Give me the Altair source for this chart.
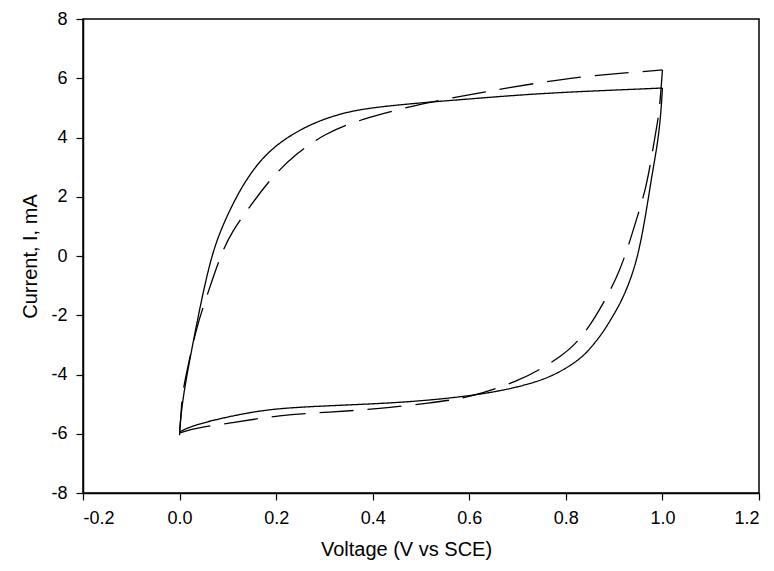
import altair as alt
import pandas as pd

# Solid curve (cycle 1): forward scan (0 -> 1 V) then reverse scan (1 -> 0 V)
solid_fwd_v = [0.0, 0.006, 0.021, 0.048, 0.068, 0.088, 0.124, 0.166, 0.213, 0.275, 0.338, 0.393,
               0.49, 0.60, 0.698, 0.80, 0.90, 1.0]
solid_fwd_i = [-5.9, -4.86, -3.5, -1.25, 0.1, 1.0, 2.23, 3.24, 3.92, 4.49, 4.83, 5.0,
               5.16, 5.3, 5.43, 5.53, 5.6, 5.67]
solid_rev_v = [1.0, 0.996, 0.988, 0.98, 0.967, 0.955, 0.943, 0.928, 0.911, 0.893, 0.876, 0.852, 0.828,
               0.772, 0.704, 0.621, 0.483, 0.345, 0.207, 0.138, 0.069, 0.02, 0.0]
solid_rev_i = [5.67, 4.6, 3.6, 2.9, 1.55, 0.45, -0.35, -1.05, -1.65, -2.15, -2.6, -3.1, -3.51,
               -4.08, -4.42, -4.69, -4.93, -5.03, -5.13, -5.3, -5.54, -5.77, -5.94]

# Dashed curve (cycle 2)
dash_fwd_v = [0.0, 0.003, 0.006, 0.017, 0.035, 0.056, 0.084, 0.109, 0.145, 0.186, 0.242, 0.304, 0.36,
              0.42, 0.49, 0.628, 0.80, 0.90, 1.0]
dash_fwd_i = [-6.05, -5.3, -4.6, -3.75, -2.4, -1.38, 0.0, 0.85, 1.65, 2.57, 3.48, 4.15, 4.52,
              4.8, 5.1, 5.54, 6.0, 6.15, 6.28]
dash_rev_v = [1.0, 0.994, 0.988, 0.98, 0.967, 0.946, 0.925, 0.905, 0.876, 0.846, 0.818, 0.793, 0.745, 0.704,
              0.60, 0.518, 0.414, 0.31, 0.207, 0.104, 0.035, 0.0]
dash_rev_i = [6.28, 4.93, 4.35, 3.58, 2.33, 1.22, 0.1, -0.75, -1.65, -2.45, -3.0, -3.35, -3.85, -4.2,
              -4.79, -4.96, -5.16, -5.27, -5.37, -5.64, -5.8, -5.97]

x_ticks = [-0.2, 0.0, 0.2, 0.4, 0.6, 0.8, 1.0, 1.2]
y_ticks = [-8, -6, -4, -2, 0, 2, 4, 6, 8]

rows = []
for style, seg, vs, cs in [
    ("solid", "solid_fwd", solid_fwd_v, solid_fwd_i),
    ("solid", "solid_rev", solid_rev_v, solid_rev_i),
    ("dashed", "dash_fwd", dash_fwd_v, dash_fwd_i),
    ("dashed", "dash_rev", dash_rev_v, dash_rev_i),
]:
    for k, (v, i) in enumerate(zip(vs, cs)):
        rows.append({"style": style, "seg": seg, "idx": k, "V": v, "I": i})
df = pd.DataFrame(rows)

neg_label = "(datum.value < 0 ? '-' : '') + format(abs(datum.value), '{}')"

chart = alt.Chart(df).mark_line(color="black", strokeWidth=1.3, interpolate="basis").encode(
    x=alt.X("V:Q", scale=alt.Scale(domain=[-0.2, 1.2], nice=False, zero=False),
            axis=alt.Axis(values=x_ticks, labelExpr=neg_label.format(".1f"),
                          title="Voltage (V vs SCE)", titleX=323)),
    y=alt.Y("I:Q", scale=alt.Scale(domain=[-8, 8], nice=False),
            axis=alt.Axis(values=y_ticks, labelExpr=neg_label.format("d"), title="Current, I, mA")),
    order="idx:Q",
    detail="seg:N",
    strokeDash=alt.StrokeDash("style:N", scale=alt.Scale(domain=["solid", "dashed"], range=[[1, 0], [34, 14]]), legend=None),
).properties(
    width=676, height=474,
    autosize=alt.AutoSizeParams(type="none"),
    padding={"left": 75, "top": 11, "right": 7, "bottom": 70},
).configure_view(
    stroke="black", strokeWidth=1.5
).configure_axis(
    grid=False,
    domainColor="black", domainWidth=1.5,
    tickColor="black", tickWidth=1.2, tickSize=7,
    labelColor="black", labelFont="Liberation Sans", labelFontSize=18, labelPadding=9,
    titleColor="black", titleFont="Liberation Sans", titleFontSize=20, titleFontWeight="normal",
).configure_axisX(titlePadding=12).configure_axisY(titlePadding=10)

chart.save("out.html", embed_options={"renderer": "svg", "actions": False})
